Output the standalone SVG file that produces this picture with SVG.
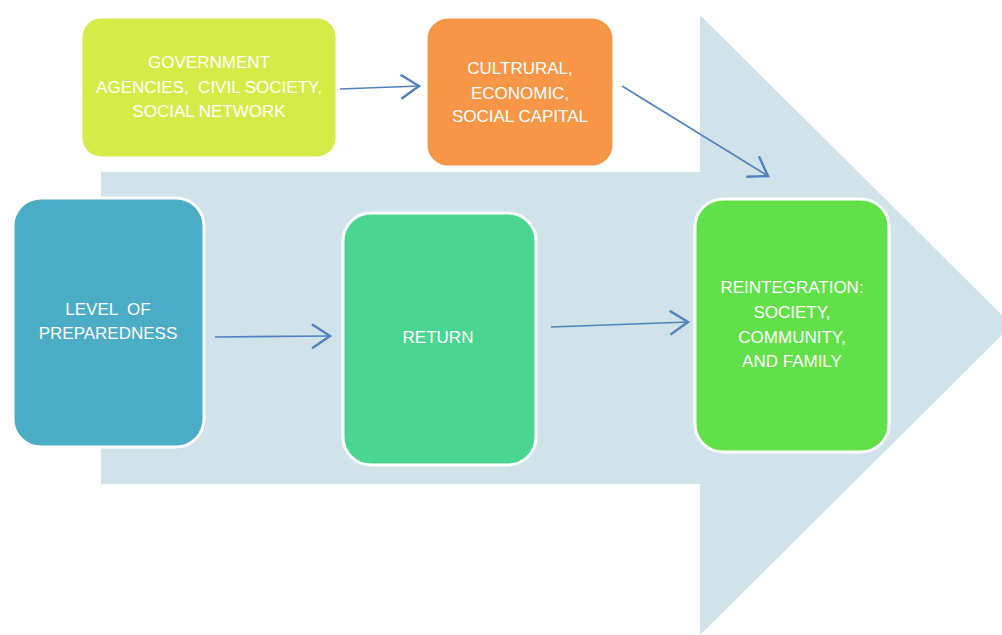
<svg xmlns="http://www.w3.org/2000/svg" width="1002" height="635" viewBox="0 0 1002 635">
  <defs>
    <style>
      .node rect { stroke: #FFFFFF; stroke-width: 3; }
      .label { font-family: "Liberation Sans", Arial, sans-serif; font-size: 17px; fill: #FFFFFF; text-anchor: middle; }
      .link { fill: none; stroke: #4F81BD; stroke-width: 1.6; marker-end: url(#open); }
    </style>
    <marker id="open" markerUnits="userSpaceOnUse" markerWidth="30" markerHeight="30" refX="0" refY="0" viewBox="-16 -10 20 20" orient="auto" overflow="visible">
      <path d="M-12,-8 L0,0 L-12,8" fill="none" stroke="#4F81BD" stroke-width="1.6" stroke-linejoin="miter"/>
    </marker>
  </defs>

  <rect width="1002" height="635" fill="#FFFFFF"/>

  <!-- big background arrow -->
  <path id="flow-arrow" d="M101,172 L700,172 L700,15 L1012,325 L700,635 L700,484 L101,484 Z" fill="#D0E2EA"/>

  <g id="node-government" class="node">
    <rect x="81" y="17" width="256" height="141" rx="20" fill="#D5EB47"/>
    <text class="label" xml:space="preserve"><tspan x="209" y="68">GOVERNMENT</tspan><tspan x="209" y="93">AGENCIES,  CIVIL SOCIETY,</tspan><tspan x="209" y="117">SOCIAL NETWORK</tspan></text>
  </g>

  <g id="node-capital" class="node">
    <rect x="426" y="17" width="188" height="150" rx="22" fill="#F79646"/>
    <text class="label"><tspan x="520" y="74">CULTRURAL,</tspan><tspan x="520" y="99">ECONOMIC,</tspan><tspan x="520" y="122">SOCIAL CAPITAL</tspan></text>
  </g>

  <g id="node-preparedness" class="node">
    <rect x="13" y="198" width="191" height="249" rx="28" fill="#4BACC6"/>
    <text class="label" xml:space="preserve"><tspan x="108" y="315">LEVEL  OF</tspan><tspan x="108" y="339">PREPAREDNESS</tspan></text>
  </g>

  <g id="node-return" class="node">
    <rect x="343" y="213" width="193" height="252" rx="28" fill="#4AD691"/>
    <text class="label" x="438" y="343">RETURN</text>
  </g>

  <g id="node-reintegration" class="node">
    <rect x="695" y="199" width="194" height="253" rx="28" fill="#61E04A"/>
    <text class="label"><tspan x="792" y="293">REINTEGRATION:</tspan><tspan x="792" y="318">SOCIETY,</tspan><tspan x="792" y="343">COMMUNITY,</tspan><tspan x="792" y="367">AND FAMILY</tspan></text>
  </g>

  <g id="connectors">
    <path class="link" d="M340,89 L419,86"/>
    <path class="link" d="M622,86 L768,176"/>
    <path class="link" d="M215,337 L330,336"/>
    <path class="link" d="M551,327 L688,322"/>
  </g>
</svg>
